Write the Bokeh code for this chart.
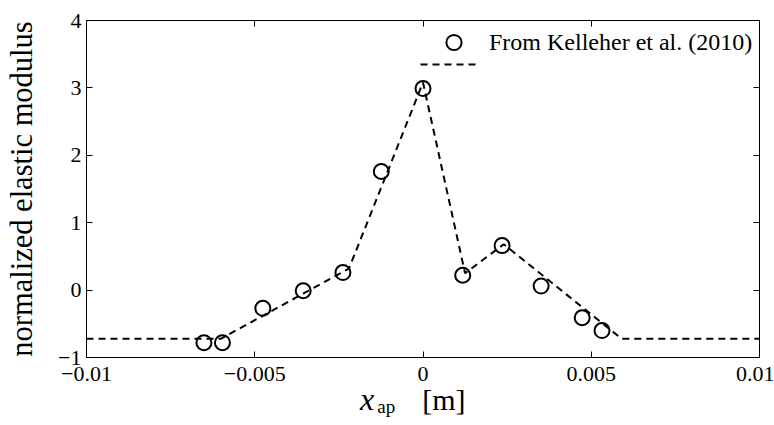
from bokeh.plotting import figure
from bokeh.models import LinearAxis, FixedTicker, Range1d, Legend, LegendItem, Div
from bokeh.layouts import column
from bokeh.embed import file_html
from bokeh.resources import INLINE

# Measured values (From Kelleher et al. (2010))
data_x = [-0.00651, -0.00596, -0.00476, -0.00356, -0.00238, -0.00124,
          0.0, 0.00118, 0.00235, 0.00351, 0.00473, 0.00532]
data_y = [-0.78, -0.78, -0.27, -0.01, 0.26, 1.76,
          2.99, 0.22, 0.66, 0.06, -0.41, -0.60]

# Model curve (dashed)
model_x = [-0.01, -0.0060, -0.0022, 0.0, 0.00125, 0.0024, 0.0059, 0.01]
model_y = [-0.72, -0.72, 0.32, 3.08, 0.25, 0.68, -0.72, -0.72]

x_ticks = [-0.01, -0.005, 0, 0.005, 0.01]
x_tick_labels = ["\u22120.01", "\u22120.005", "0", "0.005", "0.01"]
y_ticks = [-1, 0, 1, 2, 3, 4]
y_tick_labels = ["\u22121", "0", "1", "2", "3", "4"]

legend_label = "From Kelleher et al. (2010)"
y_label = "normalized elastic modulus"

FONT = "Liberation Serif"

p = figure(width=774, height=392,
           x_range=Range1d(-0.01, 0.01), y_range=Range1d(-1, 4),
           output_backend="svg", toolbar_location=None,
           min_border_left=86, min_border_right=15,
           min_border_top=20, min_border_bottom=35)
p.grid.visible = False
p.outline_line_color = "black"
p.background_fill_color = "white"
p.border_fill_color = "white"

line = p.line(model_x, model_y, line_color="black", line_width=2, line_dash="7 5")
circ = p.scatter(data_x, data_y, marker="circle", size=15, fill_color=None,
                 line_color="black", line_width=2)


def style(ax, ticks, labels, show_labels, standoff):
    ax.ticker = FixedTicker(ticks=ticks)
    ax.major_label_overrides = dict(zip(ticks, labels))
    ax.axis_line_color = "black"
    ax.axis_line_width = 1
    ax.major_tick_in = 6
    ax.major_tick_out = 0
    ax.major_tick_line_color = "black"
    ax.minor_tick_line_color = None
    ax.major_label_text_font = FONT
    if show_labels:
        ax.major_label_text_color = "black"
        ax.major_label_text_font_size = "22px"
        ax.major_label_standoff = standoff
    else:
        ax.major_label_text_color = None
        ax.major_label_text_font_size = "1px"
        ax.major_label_standoff = 0


style(p.xaxis[0], x_ticks, x_tick_labels, True, 9)
style(p.yaxis[0], y_ticks, y_tick_labels, True, 5)

top = LinearAxis()
style(top, x_ticks, x_tick_labels, False, 0)
p.add_layout(top, "above")
right = LinearAxis()
style(right, y_ticks, y_tick_labels, False, 0)
p.add_layout(right, "right")

p.yaxis[0].axis_label = y_label
p.yaxis[0].axis_label_text_font = FONT
p.yaxis[0].axis_label_text_font_size = "30.5px"
p.yaxis[0].axis_label_text_font_style = "normal"
p.yaxis[0].axis_label_text_color = "black"
p.yaxis[0].axis_label_standoff = 16

# legend row 1: marker + label
legend_a = Legend(items=[LegendItem(label=legend_label, renderers=[circ])],
                  location=(339, 296), border_line_color=None,
                  background_fill_alpha=0, label_text_font=FONT,
                  label_text_font_size="24px", label_text_color="black",
                  glyph_width=57, glyph_height=38,
                  label_standoff=7, padding=0, spacing=0, margin=0)
# legend row 2: dashed line (no label)
legend_b = Legend(items=[LegendItem(label="", renderers=[line])],
                  location=(334, 283), border_line_color=None,
                  background_fill_alpha=0, label_text_font=FONT,
                  label_text_font_size="10px", label_text_color="black",
                  glyph_width=57, glyph_height=20,
                  label_standoff=0, padding=0, spacing=0, margin=0)
p.add_layout(legend_a)
p.add_layout(legend_b)

# x axis label: italic x with subscript "ap", then [m]
xlabel_html = (
    "<div style=\"position:relative; top:-8px; padding-left:360px; white-space:nowrap; "
    "font-family:'Liberation Serif'; line-height:30px; color:black;\">"
    "<span style=\"font-style:italic; font-size:32px;\">x</span>"
    "<span style=\"font-size:19px; position:relative; top:3px; margin-left:3px;\">ap</span>"
    "<span style=\"font-size:30px; margin-left:27px;\">[m]</span>"
    "</div>"
)
xlabel = Div(text=xlabel_html, width=774, height=33, margin=(0, 0, 0, 0))

layout = column(p, xlabel, spacing=0)

open("out.html", "w").write(file_html(layout, INLINE))
